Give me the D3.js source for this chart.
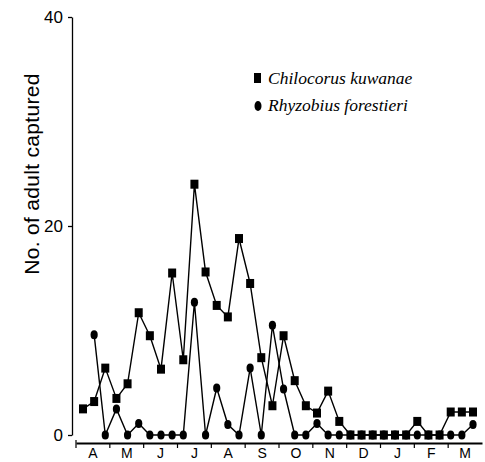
<!DOCTYPE html>
<html>
<head>
<meta charset="utf-8">
<script src="https://cdn.jsdelivr.net/npm/d3@7"></script>
<style>
  body { margin: 0; background: #fff; }
  svg { display: block; }
</style>
</head>
<body>
<div id="chart"></div>
<script>
// Month labels along the x axis (April to March)
const months = ["A", "M", "J", "J", "A", "S", "O", "N", "D", "J", "F", "M"];

// Three samples per month, 36 samples in all
const chilocorus = [2.5, 3.2, 6.4, 3.5, 4.9, 11.7, 9.5, 6.3, 15.5, 7.2, 24.0, 15.6,
  12.4, 11.3, 18.8, 14.5, 7.4, 2.8, 9.5, 5.2, 2.8, 2.1, 4.2, 1.3,
  0, 0, 0, 0, 0, 0, 1.3, 0, 0, 2.2, 2.2, 2.2];
const rhyzobius = [null, 9.6, 0, 2.5, 0, 1.1, 0, 0, 0, 0, 12.7, 0,
  4.5, 1.0, 0, 6.4, 0, 10.5, 4.4, 0, 0, 1.1, 0, 0,
  0, 0, 0, 0, 0, 0, 0, 0, 0, 0, 0, 1.0];

const yTicks = [0, 20, 40];

const W = 485, H = 462;

const svg = d3.select("#chart")
  .append("svg")
  .attr("width", W)
  .attr("height", H);

// scales
const y = d3.scaleLinear().domain([0, 40]).range([435, 17]);
const x = d3.scaleLinear().domain([0, 35]).range([83, 473]);
const monthScale = d3.scaleBand().domain(d3.range(months.length)).range([76, 482]);

// y axis
const yAxis = svg.append("g")
  .attr("transform", "translate(72,0)")
  .call(d3.axisLeft(y).tickValues(yTicks).tickSize(4).tickSizeOuter(0).tickPadding(5));
yAxis.select(".domain").attr("stroke", "#000").attr("stroke-width", 1.3);
yAxis.selectAll(".tick line").attr("stroke", "#000").attr("stroke-width", 1.3);
yAxis.selectAll(".tick text")
  .attr("fill", "#000")
  .style("font-family", "'Liberation Sans', Arial, sans-serif")
  .style("font-size", "17px");

// x axis
const xAxis = svg.append("g")
  .attr("transform", "translate(0,443)")
  .call(d3.axisBottom(monthScale).tickSize(0).tickSizeOuter(0).tickPadding(5)
    .tickFormat(i => months[i]));
xAxis.select(".domain").attr("stroke", "#000").attr("stroke-width", 2);
xAxis.selectAll(".tick text")
  .attr("fill", "#000")
  .style("font-family", "'Liberation Sans', Arial, sans-serif")
  .style("font-size", "14px");

// small ticks between months
xAxis.selectAll(".bound")
  .data(d3.range(0, months.length))
  .enter()
  .append("line")
  .attr("class", "bound")
  .attr("x1", i => monthScale(i))
  .attr("x2", i => monthScale(i))
  .attr("y1", i => i === 0 ? -3 : 1)
  .attr("y2", 5)
  .attr("stroke", "#000")
  .attr("stroke-width", 1.2);

// y axis label
svg.append("text")
  .attr("transform", "translate(39,174) rotate(-90)")
  .attr("text-anchor", "middle")
  .style("font-family", "'Liberation Sans', Arial, sans-serif")
  .style("font-size", "21px")
  .style("letter-spacing", "0.3px")
  .text("No. of adult captured");

// lines
const line = d3.line()
  .defined(d => d != null)
  .x((d, i) => x(i))
  .y(d => y(d));

svg.append("path")
  .datum(chilocorus)
  .attr("fill", "none")
  .attr("stroke", "#000")
  .attr("stroke-width", 1.4)
  .attr("d", line);

svg.append("path")
  .datum(rhyzobius)
  .attr("fill", "none")
  .attr("stroke", "#000")
  .attr("stroke-width", 1.4)
  .attr("d", line);

// markers
svg.selectAll(".sq")
  .data(chilocorus)
  .enter()
  .append("rect")
  .attr("class", "sq")
  .attr("x", (d, i) => x(i) - 4)
  .attr("y", d => y(d) - 4.5)
  .attr("width", 8)
  .attr("height", 9)
  .attr("fill", "#000");

svg.selectAll(".ci")
  .data(rhyzobius.map((v, i) => ({ v, i })).filter(d => d.v != null))
  .enter()
  .append("ellipse")
  .attr("class", "ci")
  .attr("cx", d => x(d.i))
  .attr("cy", d => y(d.v))
  .attr("rx", 3.6)
  .attr("ry", 4.5)
  .attr("fill", "#000");

// legend
const legend = svg.append("g");
legend.append("rect")
  .attr("x", 254).attr("y", 73).attr("width", 7).attr("height", 10)
  .attr("fill", "#000");
legend.append("ellipse")
  .attr("cx", 258).attr("cy", 106).attr("rx", 3.5).attr("ry", 5)
  .attr("fill", "#000");
legend.append("text")
  .attr("x", 268).attr("y", 84)
  .style("font-family", "'Liberation Serif', 'Times New Roman', serif")
  .style("font-style", "italic")
  .style("font-size", "17.5px")
  .text("Chilocorus kuwanae");
legend.append("text")
  .attr("x", 268).attr("y", 111)
  .style("font-family", "'Liberation Serif', 'Times New Roman', serif")
  .style("font-style", "italic")
  .style("font-size", "17.5px")
  .text("Rhyzobius forestieri");
</script>
</body>
</html>
